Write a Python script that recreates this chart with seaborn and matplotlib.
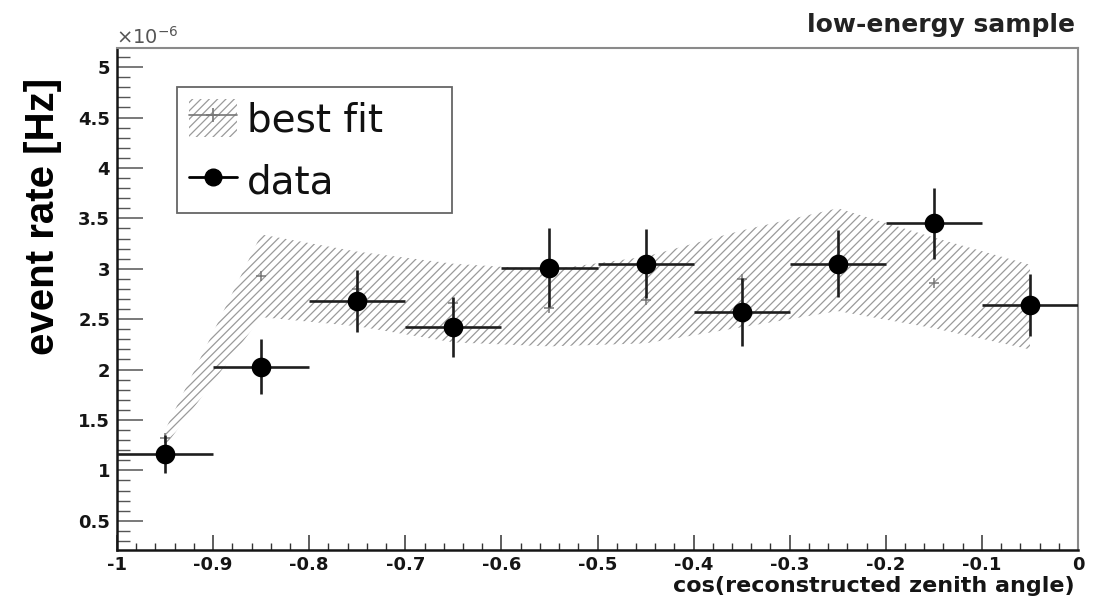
import numpy as np
import pandas as pd
import matplotlib
matplotlib.use("Agg")
import matplotlib.pyplot as plt
import seaborn as sns
from matplotlib.patches import Patch
from matplotlib.lines import Line2D
from matplotlib.legend_handler import HandlerTuple
from matplotlib.ticker import MultipleLocator

# Zenith-angle bins (centres) and half width
bin_centers = [-0.95, -0.85, -0.75, -0.65, -0.55, -0.45, -0.35, -0.25, -0.15, -0.05]
bin_half_width = 0.05

# Measured event rate [1e-6 Hz] with statistical errors
data_rate = [1.16, 2.03, 2.68, 2.42, 3.01, 3.05, 2.57, 3.05, 3.45, 2.64]
data_err = [0.19, 0.27, 0.31, 0.30, 0.39, 0.34, 0.34, 0.33, 0.35, 0.31]

# Best-fit expectation [1e-6 Hz] with its uncertainty band
fit_rate = [1.32, 2.93, 2.80, 2.66, 2.61, 2.69, 2.90, 3.09, 2.86, 2.62]
fit_err = [0.08, 0.41, 0.37, 0.39, 0.38, 0.43, 0.48, 0.51, 0.45, 0.42]

x_tick_values = [-1.0, -0.9, -0.8, -0.7, -0.6, -0.5, -0.4, -0.3, -0.2, -0.1, 0.0]
x_tick_labels = ["-1", "-0.9", "-0.8", "-0.7", "-0.6", "-0.5", "-0.4", "-0.3", "-0.2", "-0.1", "0"]
y_tick_values = [0.5, 1.0, 1.5, 2.0, 2.5, 3.0, 3.5, 4.0, 4.5, 5.0]
y_tick_labels = ["0.5", "1", "1.5", "2", "2.5", "3", "3.5", "4", "4.5", "5"]

df = pd.DataFrame({
    "cos_zenith": bin_centers,
    "data_rate": data_rate,
    "data_err": data_err,
    "fit_rate": fit_rate,
    "fit_err": fit_err,
})
df["fit_lo"] = df["fit_rate"] - df["fit_err"]
df["fit_hi"] = df["fit_rate"] + df["fit_err"]

sns.set_theme(style="white")
plt.rcParams["font.family"] = ["DejaVu Sans"]
plt.rcParams["axes.unicode_minus"] = False
plt.rcParams["hatch.linewidth"] = 0.9

W, H = 1113, 599
fig = plt.figure(figsize=(W / 100, H / 100), dpi=100)
fig.patch.set_facecolor("white")
ax = fig.add_axes([117 / W, 1 - 550 / H, 961 / W, 502 / H])
ax.set_facecolor("white")

hatch_color = "#9a9a9a"
hatch_style = "////"
# best-fit uncertainty band
ax.fill_between(df["cos_zenith"], df["fit_lo"], df["fit_hi"], facecolor="white",
                edgecolor=hatch_color, hatch=hatch_style, linewidth=0, zorder=1)
# best-fit central values
sns.scatterplot(data=df, x="cos_zenith", y="fit_rate", ax=ax, marker="+", s=60,
                color="#777777", linewidth=1.1, zorder=2, legend=False)

# data with bin-width and statistical error bars
ax.errorbar(df["cos_zenith"], df["data_rate"], xerr=bin_half_width, yerr=df["data_err"],
            fmt="none", ecolor="#1e1e1e", elinewidth=1.9, capsize=0, zorder=3)
sns.scatterplot(data=df, x="cos_zenith", y="data_rate", ax=ax, marker="o", s=200,
                color="black", edgecolor="black", linewidth=0, zorder=4, legend=False)

ax.set_xlim(-1.0, 0.0)
ax.set_ylim(0.21, 5.19)
ax.set_xlabel("")
ax.set_ylabel("")

ax.set_xticks(x_tick_values)
ax.set_xticklabels(x_tick_labels)
ax.set_yticks(y_tick_values)
ax.set_yticklabels(y_tick_labels)
ax.xaxis.set_minor_locator(MultipleLocator(0.02))
ax.yaxis.set_minor_locator(MultipleLocator(0.1))

for lab in ax.get_xticklabels() + ax.get_yticklabels():
    lab.set_fontsize(13)
    lab.set_fontweight("bold")
    lab.set_color("#151515")

ax.tick_params(axis="x", which="major", direction="in", length=10.5, width=1.1,
               color="#333333", pad=4, bottom=True, top=False)
ax.tick_params(axis="x", which="minor", direction="in", length=5, width=1.0,
               color="#333333", bottom=True, top=False)
ax.tick_params(axis="y", which="major", direction="in", length=19, width=1.1,
               color="#555555", pad=5, left=True, right=False)
ax.tick_params(axis="y", which="minor", direction="in", length=9.5, width=1.0,
               color="#555555", left=True, right=False)

for side in ["left", "bottom"]:
    ax.spines[side].set_color("#151515")
    ax.spines[side].set_linewidth(1.8)
for side in ["top", "right"]:
    ax.spines[side].set_color("#8a8a8a")
    ax.spines[side].set_linewidth(1.5)

# legend
fit_handle = (Patch(facecolor="white", edgecolor=hatch_color, hatch=hatch_style, linewidth=0),
              Line2D([], [], color="#777777", lw=1.2, marker="+", markersize=10, mew=1.2))
data_handle = Line2D([], [], color="black", lw=2.0, marker="o", markersize=12)
leg = ax.legend([fit_handle, data_handle], ["best fit", "data"],
                handler_map={tuple: HandlerTuple(ndivide=1, pad=0)},
                loc="upper left", bbox_to_anchor=(0.0624, 0.673, 0.2862, 0.249),
                mode="expand", fontsize=28, frameon=True, fancybox=False,
                edgecolor="#666666", framealpha=1, handlelength=1.25, handleheight=1.15,
                handletextpad=0.25, borderpad=0.3, labelspacing=0.55, borderaxespad=0)
leg.get_frame().set_linewidth(1.3)
for t in leg.get_texts():
    t.set_color("#111111")

# axis titles and annotations
fig.text(43 / W, 1 - 216 / H, "event rate [Hz]", rotation=90, ha="center", va="center",
         fontsize=29, fontweight="bold", family=["Liberation Sans", "DejaVu Sans"], color="black")
fig.text(1075 / W, 1 - 586 / H, "cos(reconstructed zenith angle)", ha="right", va="center",
         fontsize=16, fontweight="bold", color="#151515")
fig.text(1075 / W, 1 - 25 / H, "low-energy sample", ha="right", va="center",
         fontsize=18, fontweight="bold", color="#222222")
fig.text(116 / W, 1 - 37 / H, r"$\times$10$^{-6}$", ha="left", va="center",
         fontsize=14, color="#555555")

fig.savefig("out.png", dpi=100, facecolor="white")
